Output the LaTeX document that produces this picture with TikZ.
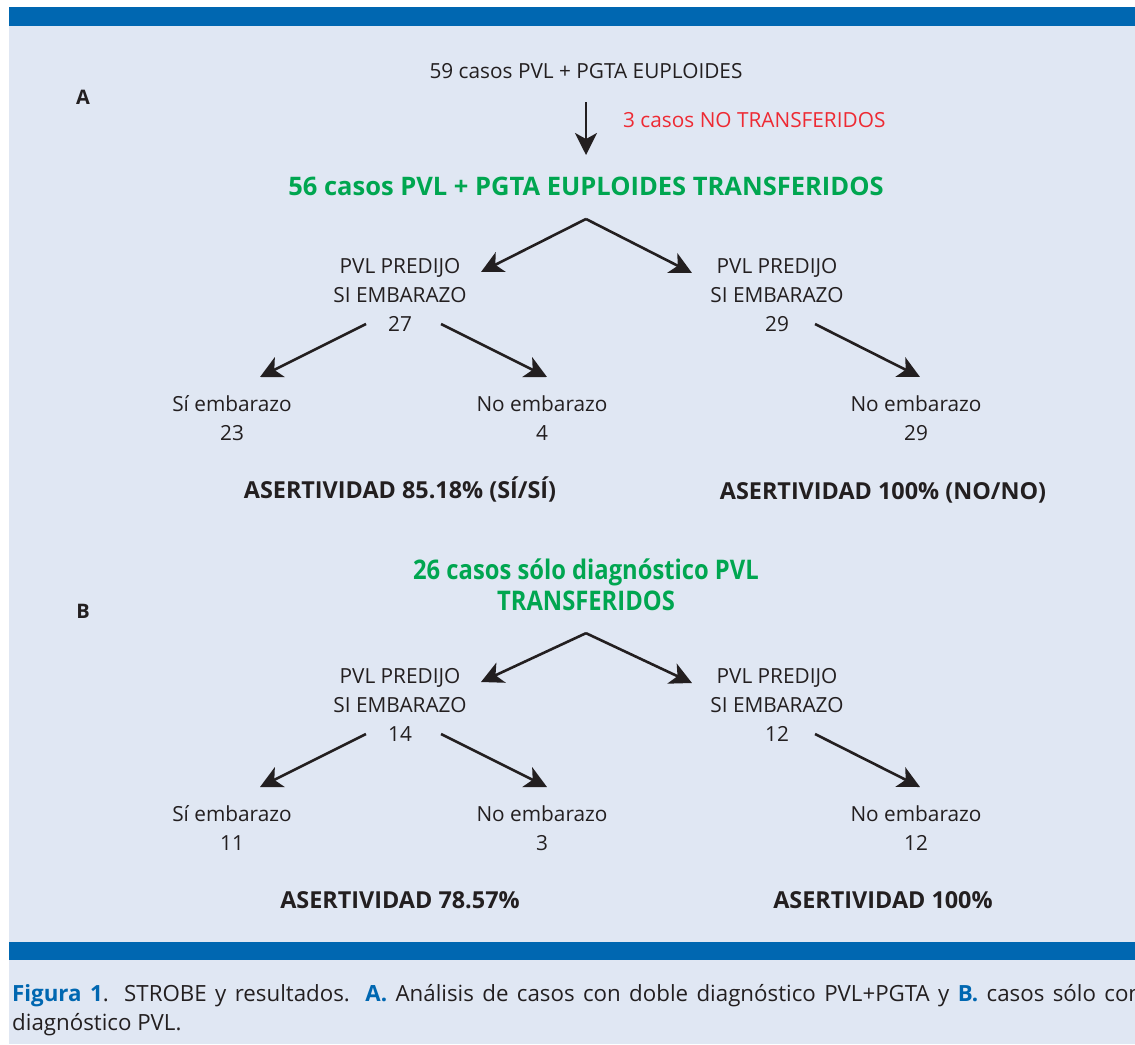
\documentclass[tikz,border=0pt]{standalone}
\usepackage{fontspec}
\setmainfont{Open Sans}
\newfontfamily\narrowfont[FakeStretch=0.88]{Open Sans}
\usetikzlibrary{arrows.meta, positioning, calc}

\definecolor{bandblue}{HTML}{0067B1}
\definecolor{panelbg}{HTML}{E0E7F3}
\definecolor{casegreen}{HTML}{00A650}
\definecolor{lossred}{HTML}{EE2A33}
\definecolor{inkgray}{HTML}{231F20}

\newcommand\plainsize{\fontsize{20.8}{29}\selectfont}
\newcommand\titlesize{\fontsize{25.5}{31}\selectfont\bfseries}
\newcommand\titleBsize{\narrowfont\fontsize{27}{31}\selectfont\bfseries}
\newcommand\resultsize{\fontsize{23.4}{29}\selectfont\bfseries}
\newcommand\captionsize{\fontsize{22.3}{29}\selectfont}

\begin{document}
\begin{tikzpicture}[x=1pt, y=1pt, >={Stealth[length=22pt, width=22pt, inset=6pt]}]
  % Styles
  \tikzset{every node/.style={inner sep=0pt, text=inkgray, font=\plainsize}}
  \tikzset{flowarrow/.style={->, draw=inkgray, line width=2.6pt}}
  \tikzset{casetext/.style={align=center}}
  \tikzset{greentitle/.style={text=casegreen, font=\titlesize, align=center}}
  \tikzset{greentitleB/.style={text=casegreen, font=\titleBsize, align=center}}
  \tikzset{resulttext/.style={font=\resultsize}}
  \tikzset{panellabel/.style={font=\fontsize{20}{24}\selectfont\bfseries}}

  % --- Frame ---
  \useasboundingbox (0,0) rectangle (1135,-1044);
  \fill[panelbg] (9,-7) rectangle (1135,-1044);
  \fill[bandblue] (9,-7) rectangle (1135,-26);
  \fill[bandblue] (9,-942) rectangle (1135,-960);

  % --- Panel A ---
  \node[panellabel, anchor=base] (labelA) at (83,-104) {A};
  \node[anchor=base] (sourceA) at (586,-78) {59 casos PVL + PGTA EUPLOIDES};
  \node[anchor=base west, text=lossred] (lossA) at (623,-127) {3 casos NO TRANSFERIDOS};
  \node[greentitle, anchor=base] (titleA) at (586,-195) {56 casos PVL + PGTA EUPLOIDES TRANSFERIDOS};

  \node[casetext] (predAL) at (400,-295) {PVL PREDIJO\\SI EMBARAZO\\27};
  \node[casetext] (predAR) at (777,-295) {PVL PREDIJO\\SI EMBARAZO\\29};

  \node[casetext] (leafAL) at (232,-418) {Sí embarazo\\23};
  \node[casetext] (leafAM) at (542,-418) {No embarazo\\4};
  \node[casetext] (leafAR) at (916,-418) {No embarazo\\29};

  \node[resulttext, anchor=base] (resAL) at (400,-498) {ASERTIVIDAD 85.18\% (SÍ/SÍ)};
  \node[resulttext, anchor=base] (resAR) at (883,-499) {ASERTIVIDAD 100\% (NO/NO)};

  \coordinate (forkA) at ([yshift=-24pt]titleA.base);
  \draw[flowarrow] ([yshift=-24pt]sourceA.base) -- ([yshift=40pt]titleA.base);
  \draw[flowarrow] (forkA) -- ([shift={(81,23)}]predAL.center);
  \draw[flowarrow] (forkA) -- ([shift={(-85,22)}]predAR.center);
  \draw[flowarrow] ([shift={(-34,-29)}]predAL.center) -- ([shift={(28,41)}]leafAL.center);
  \draw[flowarrow] ([shift={(41,-29)}]predAL.center) -- ([shift={(5,41)}]leafAM.center);
  \draw[flowarrow] ([shift={(38,-29)}]predAR.center) -- ([shift={(4,41)}]leafAR.center);

  % --- Panel B ---
  \node[panellabel, anchor=base] (labelB) at (83,-618) {B};
  \node[greentitleB] (titleB) at (586,-585) {26 casos sólo diagnóstico PVL\\TRANSFERIDOS};

  \node[casetext] (predBL) at (400,-705) {PVL PREDIJO\\SI EMBARAZO\\14};
  \node[casetext] (predBR) at (777,-705) {PVL PREDIJO\\SI EMBARAZO\\12};

  \node[casetext] (leafBL) at (232,-828) {Sí embarazo\\11};
  \node[casetext] (leafBM) at (542,-828) {No embarazo\\3};
  \node[casetext] (leafBR) at (916,-828) {No embarazo\\12};

  \node[resulttext, anchor=base] (resBL) at (400,-908) {ASERTIVIDAD 78.57\%};
  \node[resulttext, anchor=base] (resBR) at (883,-908) {ASERTIVIDAD 100\%};

  \coordinate (forkB) at ([yshift=-22pt]titleB.south);
  \draw[flowarrow] (forkB) -- ([shift={(81,23)}]predBL.center);
  \draw[flowarrow] (forkB) -- ([shift={(-85,22)}]predBR.center);
  \draw[flowarrow] ([shift={(-34,-29)}]predBL.center) -- ([shift={(28,41)}]leafBL.center);
  \draw[flowarrow] ([shift={(41,-29)}]predBL.center) -- ([shift={(5,41)}]leafBM.center);
  \draw[flowarrow] ([shift={(38,-29)}]predBR.center) -- ([shift={(4,41)}]leafBR.center);

  % --- Caption ---
  \node[anchor=base west, font=\captionsize] (caption1) at (12,-1001)
    {\makebox[1130pt][s]{\textcolor{bandblue}{\textbf{Figura 1}}. STROBE y resultados. \textcolor{bandblue}{\textbf{A.}} Análisis de casos con doble diagnóstico PVL+PGTA y \textcolor{bandblue}{\textbf{B.}} casos sólo con}};
  \node[anchor=base west, font=\captionsize] (caption2) at (12,-1030) {diagnóstico PVL.};
\end{tikzpicture}
\end{document}
